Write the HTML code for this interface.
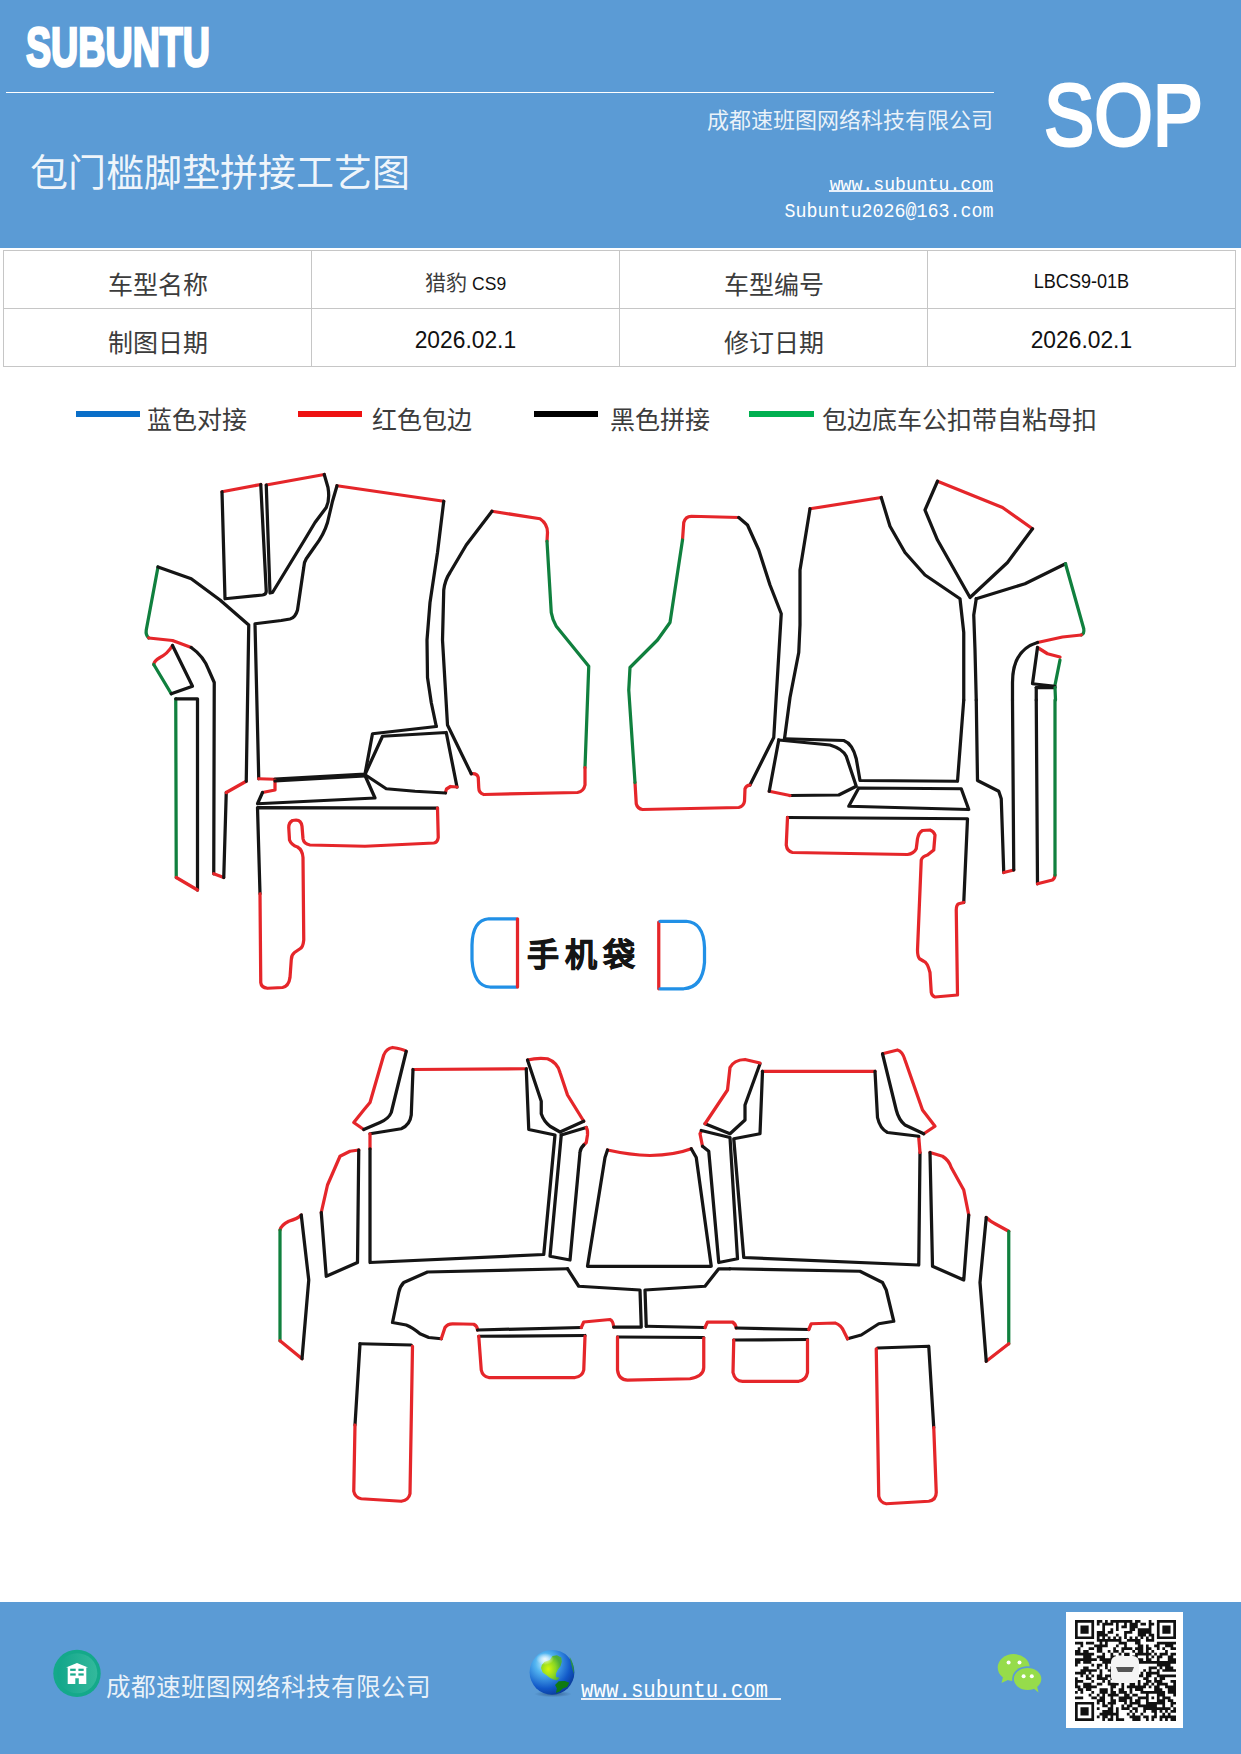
<!DOCTYPE html>
<html lang="zh-CN">
<head>
<meta charset="utf-8">
<style>
html,body{margin:0;padding:0;}
body{width:1241px;height:1754px;position:relative;overflow:hidden;background:#fff;font-family:"Liberation Serif",serif;}
.abs{position:absolute;white-space:nowrap;}
#hdr{position:absolute;left:0;top:0;width:1241px;height:247.6px;background:#5b9bd5;}
#ftr{position:absolute;left:0;top:1602px;width:1241px;height:152px;background:#5b9bd5;}
.w{color:#fff;}
.logo{font-family:"Liberation Sans",sans-serif;font-weight:bold;font-size:56px;line-height:56px;transform-origin:0 0;transform:scaleX(0.672);-webkit-text-stroke:2.6px #fff;}
.sop{font-family:"Liberation Sans",sans-serif;font-weight:normal;font-size:88px;line-height:88px;transform-origin:0 0;transform:scaleX(0.855);-webkit-text-stroke:3px #fff;}
.mono{font-family:"Liberation Mono",monospace;}
.cell{position:absolute;width:307px;text-align:center;white-space:nowrap;color:#3c3c3c;line-height:1.2;}
.sans{font-family:"Liberation Sans",sans-serif;color:#111;}
.lg{position:absolute;height:6px;}
.lt{font-size:25px;color:#3c3c3c;}
</style>
</head>
<body>
<div id="hdr">
  <div class="abs w logo" id="logo" style="left:26px;top:19px;">SUBUNTU</div>
  <div class="abs" style="left:6px;top:91.6px;width:988px;height:1.8px;background:#fff;"></div>
  <div class="abs w" id="comp" style="color:rgba(255,255,255,0.88);right:248px;top:102px;font-size:22px;">成都速班图网络科技有限公司</div>
  <div class="abs w" id="title" style="color:rgba(255,255,255,0.92);left:30px;top:142px;font-size:38px;">包门槛脚垫拼接工艺图</div>
  <div class="abs w sop" id="sop" style="left:1044px;top:71px;">SOP</div>
  <div class="abs w mono" id="url1" style="right:248px;top:176px;font-size:19px;line-height:19px;transform-origin:100% 0;transform:scaleX(0.955);">www.subuntu.com</div>
  <div class="abs" style="left:829px;top:190.4px;width:164px;height:1.4px;background:#e8f0fa;"></div>
  <div class="abs w mono" id="mail" style="right:248px;top:201px;font-size:21px;line-height:21px;transform-origin:100% 0;transform:scaleX(0.873);">Subuntu2026@163.com</div>
</div>

<div class="abs" style="left:3.2px;top:250.2px;width:1232.4px;height:116.8px;border:1.3px solid #c6c6c6;box-sizing:border-box;"></div>
<div class="abs" style="left:4px;top:308px;width:1231px;height:1.3px;background:#c6c6c6;"></div>
<div class="abs" style="left:311px;top:251px;width:1.3px;height:115px;background:#c6c6c6;"></div>
<div class="abs" style="left:619px;top:251px;width:1.3px;height:115px;background:#c6c6c6;"></div>
<div class="abs" style="left:927px;top:251px;width:1.3px;height:115px;background:#c6c6c6;"></div>
<div class="cell" style="left:4px;top:271px;font-size:25px;">车型名称</div>
<div class="cell" style="left:312px;top:271px;font-size:21px;">猎豹 <span class="sans" style="font-size:17.5px;">CS9</span></div>
<div class="cell" style="left:620px;top:271px;font-size:25px;">车型编号</div>
<div class="cell sans" style="left:928px;top:268px;font-size:21px;"><span style="display:inline-block;transform:scaleX(0.86);">LBCS9-01B</span></div>
<div class="cell" style="left:4px;top:329px;font-size:25px;">制图日期</div>
<div class="cell sans" style="left:312px;top:326px;font-size:24px;"><span style="display:inline-block;transform:scaleX(0.95);">2026.02.1</span></div>
<div class="cell" style="left:620px;top:329px;font-size:25px;">修订日期</div>
<div class="cell sans" style="left:928px;top:326px;font-size:24px;"><span style="display:inline-block;transform:scaleX(0.95);">2026.02.1</span></div>

<div class="lg" style="left:76px;top:411px;width:64px;background:#0a6ec8;"></div>
<div class="abs lt" style="left:147px;top:400px;">蓝色对接</div>
<div class="lg" style="left:298px;top:411px;width:64px;background:#ee1111;"></div>
<div class="abs lt" style="left:372px;top:400px;">红色包边</div>
<div class="lg" style="left:534px;top:411px;width:64px;background:#000;"></div>
<div class="abs lt" style="left:610px;top:400px;">黑色拼接</div>
<div class="lg" style="left:749px;top:411px;width:65px;background:#00b050;"></div>
<div class="abs lt" style="left:822px;top:400px;">包边底车公扣带自粘母扣</div>

<svg id="draw" class="abs" style="left:0;top:0;" width="1241" height="1600" viewBox="0 0 1241 1600" fill="none" stroke-linecap="round" stroke-linejoin="round" stroke-width="13">
<style>.k{stroke:#151515}.r{stroke:#e5262a}.g{stroke:#10803e}.b{stroke:#2190e6}</style>
<g transform="translate(140,460) scale(0.25)">
<path class="r" d="M328,127 L483,98"/>
<path class="k" d="M483,98 L505,525 Q505,538 490,540 L340,555 L328,127"/>
<path class="r" d="M505,100 L737,58"/>
<path class="k" d="M737,58 L752,110 Q760,160 745,190 L700,250 L655,325 L530,530 L520,532 L505,100"/>
<path class="r" d="M788,103 L1215,165"/>
<path class="k" d="M788,103 L770,165 L750,250 Q735,300 700,345 L665,395 Q655,410 655,430 L630,600 Q622,630 600,636 L565,642 L460,655 L475,1275"/>
<path class="r" d="M475,1275 L540,1277"/>
<path class="k" d="M540,1276 L900,1256 L930,1095 L1185,1066"/>
<path class="g" d="M72,428 L25,680 Q22,700 35,712"/>
<path class="r" d="M35,712 L130,722 L205,750"/>
<path class="k" d="M205,750 Q255,785 275,840 L297,890 L295,1655"/>
<path class="r" d="M295,1655 L335,1670"/>
<path class="k" d="M335,1670 L345,1330"/>
<path class="r" d="M345,1330 L425,1285"/>
<path class="k" d="M425,1285 L435,660 L320,560 L205,475 L72,428"/>
<path class="r" d="M130,742 Q110,775 80,790 Q55,805 55,818"/>
<path class="g" d="M55,818 L125,935"/>
<path class="k" d="M125,935 L210,905 L130,742"/>
<path class="g" d="M145,1670 L143,955"/>
<path class="k" d="M143,955 L230,955 L230,1720"/>
<path class="r" d="M230,1720 L145,1670"/>
<path class="r" d="M540,1280 L540,1320 L490,1330"/>
<path class="k" d="M490,1330 L470,1375 L940,1352 L900,1262"/>
<path class="k" d="M540,1284 L900,1264"/>
<path class="k" d="M900,1258 L970,1105 L1225,1090 L1268,1308"/>
<path class="r" d="M1268,1308 L1242,1306 L1226,1316 L1222,1330"/>
<path class="k" d="M1222,1332 L1100,1325 L985,1315 L905,1262"/>
<path class="k" d="M480,1735 L470,1390 L1190,1392"/>
<path class="r" d="M1190,1392 L1193,1510 Q1190,1530 1175,1532 L900,1545 L680,1540 Q655,1535 652,1515 L648,1465 Q645,1440 625,1440 L610,1442 Q595,1450 595,1470 L598,1520 Q605,1540 630,1548 Q650,1560 652,1590 L655,1920 Q652,1950 640,1955 L618,1970 Q605,1980 605,2000 L600,2070 Q595,2105 570,2110 L510,2113 Q485,2110 483,2090 L480,1735"/>
</g>
<g transform="translate(420,490) scale(0.25)">
<path class="k" d="M95,45 L70,250 L40,450 L28,600 L30,750 L45,850 L65,945"/>
<path class="r" d="M288,85 L480,115 Q510,135 510,170 L508,205"/>
<path class="g" d="M508,205 L525,490 Q530,520 545,545 L675,705 L660,1110"/>
<path class="r" d="M660,1110 L660,1180 Q655,1205 630,1210 L255,1218 Q235,1212 235,1190 L233,1150 Q228,1132 205,1135"/>
<path class="k" d="M205,1135 L110,940 L90,600 L95,400 Q100,360 120,330 L185,220 L288,85"/>
</g>
<g transform="translate(620,490) scale(0.25)">
<path class="r" d="M250,200 L255,130 Q262,105 285,105 L475,110"/>
<path class="k" d="M475,110 L510,140 L555,240 L600,380 L645,495 L615,990 L520,1180"/>
<path class="r" d="M60,1170 L65,1255 Q70,1275 90,1278 L475,1270 Q495,1265 498,1245 L500,1195 Q505,1180 520,1180"/>
<path class="g" d="M250,200 L200,530 L150,600 L40,710 L35,800 L60,1170"/>
<path class="r" d="M760,75 L1045,30"/>
<path class="k" d="M760,75 L720,320 L720,540 L715,650 L680,830 L658,995"/>
</g>
<g transform="translate(800,470) scale(0.25)">
<path class="k" d="M325,110 L360,225 L420,330 L500,420 L640,515 L655,650 L655,920"/>
<path class="r" d="M550,45 L810,150 L930,235"/>
<path class="k" d="M930,235 L830,370 L680,510 L550,280 L500,160 L550,45"/>
<path class="k" d="M705,515 L900,455 L1062,375"/>
<path class="g" d="M1062,375 L1135,635 Q1138,655 1125,660"/>
<path class="r" d="M1125,660 L1050,668 L950,690"/>
<path class="k" d="M950,690 Q850,720 850,850 L850,920"/>
<path class="k" d="M705,515 L695,580 L700,720 L705,920"/>
<path class="r" d="M950,710 L990,735 L1040,748"/>
<path class="g" d="M1040,760 L1020,860"/>
<path class="k" d="M1020,865 L930,855 L950,710"/>
<path class="k" d="M945,870 L1020,870"/>
<path class="g" d="M1020,870 L1022,920"/>
<path class="k" d="M945,870 L945,920"/>
</g>
<g transform="translate(770,700) scale(0.25)">
<path class="k" d="M775,0 L750,325 L360,322 L345,235 Q330,175 295,162 L58,155"/>
<path class="k" d="M35,160 L240,180 Q290,195 305,225 L345,345 L275,380 L80,382"/>
<path class="r" d="M80,382 L-3,365"/>
<path class="k" d="M35,160 L-3,365"/>
<path class="k" d="M355,352 L765,355 L795,438 L315,425 Z"/>
<path class="k" d="M70,470 L790,475 L775,810"/>
<path class="r" d="M775,810 L755,815 Q745,820 745,840 L750,1180 L660,1188 Q648,1185 645,1170 L640,1090 Q630,1050 615,1045 L598,1035 Q590,1025 590,1000 L605,640 Q610,625 630,620 L655,600 L660,540 Q655,525 640,520 L610,522 Q595,530 590,555 L585,595 Q575,615 550,618 L90,610 Q68,605 65,580 L70,470"/>
<path class="k" d="M825,0 L830,322 L915,365 L925,395 L935,690"/>
<path class="r" d="M935,690 L975,680"/>
<path class="k" d="M975,680 L970,0"/>
<path class="k" d="M1065,0 L1070,735"/>
<path class="r" d="M1070,735 L1130,720 Q1140,712 1140,700"/>
<path class="g" d="M1140,700 L1140,0"/>
</g>
<g transform="translate(440,740) scale(0.25)">
<path class="b" d="M305,715 L195,715 Q130,720 128,820 L128,880 Q135,985 200,988 L305,988"/>
<path class="r" d="M310,715 L310,988"/>
<path class="r" d="M875,728 L875,995"/>
<path class="b" d="M880,725 L985,725 Q1055,730 1058,830 L1058,890 Q1050,990 975,995 L880,995"/>
</g>
<g transform="translate(270,1040) scale(0.25)">
<path class="r" d="M545,45 Q530,35 490,30 Q465,35 455,60 L400,250 L375,280 L335,330 L375,358"/>
<path class="k" d="M375,358 L440,330 Q475,315 485,290 L545,45"/>
<path class="r" d="M572,118 L1025,115"/>
<path class="k" d="M572,118 L565,300 Q560,340 525,355 L400,375"/>
<path class="r" d="M400,375 L400,435"/>
<path class="k" d="M400,435 L400,890 L1095,858 L1140,380 L1035,358 L1025,115"/>
<path class="r" d="M1030,80 Q1070,70 1110,75 Q1150,90 1160,130 L1190,220 L1255,325"/>
<path class="k" d="M1030,80 L1085,245 L1085,295 Q1095,325 1120,345 L1160,368 L1255,325"/>
<path class="r" d="M355,440 L320,445 L280,465 L230,580 L205,690"/>
<path class="k" d="M205,690 L225,945 L350,890 L355,440"/>
<path class="r" d="M125,700 Q110,715 75,725 Q45,740 40,760"/>
<path class="g" d="M40,760 L40,1203"/>
<path class="r" d="M40,1203 L128,1275"/>
<path class="k" d="M128,1275 L155,960 L125,700"/>
<path class="k" d="M1190,915 L630,928 L535,970 Q520,985 515,1010 L490,1130 L545,1140 Q570,1150 600,1175 L635,1190 L685,1195"/>
<path class="r" d="M685,1195 L700,1150 Q710,1135 730,1135 L815,1137 Q830,1145 830,1160"/>
<path class="k" d="M830,1160 L1245,1150"/>
<path class="k" d="M835,1185 L1260,1182"/>
<path class="r" d="M835,1185 L845,1320 Q850,1345 875,1350 L1220,1350 Q1250,1345 1255,1320 L1260,1185"/>
<path class="k" d="M360,1215 L565,1220"/>
<path class="k" d="M360,1215 L340,1540"/>
<path class="r" d="M340,1540 L335,1805 Q340,1830 365,1835 L525,1845 Q555,1840 560,1815 L570,1225"/>
</g>
<g transform="translate(530,1040) scale(0.25)">
<path class="k" d="M125,380 L225,350"/>
<path class="r" d="M225,350 Q232,360 230,380 L225,410 L215,420"/>
<path class="k" d="M215,420 Q200,435 200,450 L160,880 L80,865 L125,380"/>
<path class="r" d="M310,440 Q400,460 480,462 Q580,460 645,435"/>
<path class="k" d="M645,435 L665,470 L725,905 L230,905 L300,470 L310,440"/>
<path class="r" d="M685,365 L680,375 L690,425"/>
<path class="k" d="M690,425 L715,445 L755,890 L830,875 L800,390 L685,362"/>
<path class="k" d="M920,95 L860,260 L860,320 L800,375 L700,335"/>
<path class="r" d="M700,335 L790,200 L800,110 Q815,80 860,78 L920,92"/>
<path class="r" d="M205,1150 L215,1128 L320,1118 Q332,1122 335,1148"/>
<path class="k" d="M335,1148 L445,1148 L440,1000 L195,985 L150,915"/>
<path class="k" d="M465,1145 L460,1000 L700,985 L755,915 L800,915"/>
<path class="k" d="M465,1145 L700,1150"/>
<path class="r" d="M700,1150 L710,1128 L810,1128 Q822,1135 825,1152"/>
<path class="k" d="M825,1152 L1115,1158"/>
<path class="k" d="M350,1188 L695,1190"/>
<path class="r" d="M350,1188 L350,1320 Q355,1360 390,1360 L640,1355 Q695,1345 695,1310 L695,1192"/>
</g>
<g transform="translate(730,1040) scale(0.25)">
<path class="r" d="M130,125 L580,125"/>
<path class="k" d="M130,125 L120,375 L15,395 L55,870 L755,900 L760,450"/>
<path class="r" d="M760,450 L755,390"/>
<path class="k" d="M755,385 L630,370 Q600,355 590,310 L580,125"/>
<path class="r" d="M610,55 L670,40 Q690,45 700,80 L770,280 L820,345 L775,375"/>
<path class="k" d="M775,375 L700,340 Q675,320 665,280 L610,55"/>
<path class="r" d="M800,450 L850,465 Q875,480 885,510 L935,600 L955,700"/>
<path class="k" d="M955,700 L935,960 L810,905 L800,450"/>
<path class="r" d="M1025,710 Q1040,725 1060,735 L1115,765"/>
<path class="g" d="M1115,765 L1115,1215"/>
<path class="r" d="M1115,1215 L1025,1285"/>
<path class="k" d="M1025,1285 L1000,970 L1025,710"/>
<path class="k" d="M0,915 L520,925 L610,970 L625,1000 L655,1125 L595,1135 L525,1180 L470,1195"/>
<path class="r" d="M470,1195 L455,1165 Q445,1140 420,1132 L325,1135 L315,1158"/>
<path class="k" d="M15,1200 L310,1198"/>
<path class="r" d="M15,1200 L12,1330 Q20,1365 50,1365 L275,1365 Q305,1360 310,1330 L310,1200"/>
<path class="k" d="M590,1232 L795,1225 L815,1550"/>
<path class="r" d="M815,1550 L825,1810 Q825,1840 795,1845 L625,1855 Q600,1850 595,1825 L585,1235"/>
</g>
</svg>

<div class="abs" id="bag" style="left:527px;top:929px;font-size:32px;font-weight:bold;color:#151515;letter-spacing:6px;-webkit-text-stroke:0.7px #151515;">手机袋</div>
<div id="ftr">
<svg class="abs" style="left:0;top:0;" width="1241" height="152" viewBox="0 1602 1241 152">
<defs>
<radialGradient id="gl" cx="0.35" cy="0.3" r="0.75">
<stop offset="0" stop-color="#c9f4ff"/><stop offset="0.3" stop-color="#52b4f0"/><stop offset="0.75" stop-color="#1158c8"/><stop offset="1" stop-color="#0a3a98"/>
</radialGradient>
<radialGradient id="sh" cx="0.5" cy="0.5" r="0.5"><stop offset="0" stop-color="#1e3f66" stop-opacity="0.6"/><stop offset="1" stop-color="#1e3f66" stop-opacity="0"/></radialGradient>
</defs>
<linearGradient id="tg" x1="0" y1="0" x2="1" y2="0"><stop offset="0" stop-color="#12a68a"/><stop offset="1" stop-color="#33b99c"/></linearGradient>
<circle cx="77" cy="1673.4" r="23.7" fill="#14a98a"/>
<circle cx="77.3" cy="1673.2" r="20" fill="url(#tg)"/>
<path d="M66,1667.6 L77,1663 L88.1,1667.6 L86.3,1667.6 L86.3,1684 L78.8,1684 L78.8,1678.2 L75.3,1678.2 L75.3,1684 L67.7,1684 L67.7,1667.6 Z" fill="#fff"/>
<g fill="#16a98b"><rect x="70.2" y="1668.7" width="5.5" height="2.2"/><rect x="78.4" y="1668.7" width="5.3" height="2.2"/><rect x="70.2" y="1673.4" width="5.5" height="2.2"/><rect x="78.4" y="1673.4" width="5.3" height="2.2"/></g>
<ellipse cx="553" cy="1694" rx="19" ry="3.2" fill="url(#sh)"/>
<radialGradient id="na" cx="0.35" cy="0.55" r="0.6"><stop offset="0" stop-color="#d4f80a"/><stop offset="0.6" stop-color="#8ad624"/><stop offset="1" stop-color="#4cae3a"/></radialGradient>
<radialGradient id="hl" cx="0.5" cy="0.5" r="0.5"><stop offset="0" stop-color="#ffffff" stop-opacity="0.85"/><stop offset="1" stop-color="#ffffff" stop-opacity="0"/></radialGradient>
<circle cx="552" cy="1672.3" r="22.4" fill="url(#gl)"/>
<path d="M569.5,1656.5 Q574.5,1664 573.8,1674 Q572,1668 569.5,1656.5 Z" fill="#2e9a3a" opacity="0.9"/>
<path d="M541,1668 L541.8,1665 L544.5,1661.8 L549.8,1660.1 L552.5,1656.1 L556.9,1655.2 L561.3,1657.4 L561.8,1661.8 L560.5,1666.3 L557.8,1669.8 L556,1673.4 L556,1676.9 L559.6,1677.8 L556.9,1680.5 L553.4,1679.6 L549.8,1677.8 L546.3,1675.1 L542.7,1672.5 Z" fill="url(#na)"/>
<path d="M555.1,1684.9 L558.7,1681.3 L564.9,1680.9 L569.3,1682.7 L567.1,1687.1 L562.7,1688.4 L559.6,1691.5 L556,1692.9 L556.9,1688.4 Z" fill="#0f7a12"/>
<ellipse cx="545" cy="1659" rx="9" ry="6" fill="url(#hl)"/>
<g fill="#96dc4b">
<ellipse cx="1013.7" cy="1667.5" rx="16" ry="13.5"/>
<path d="M1003,1677 L1001.5,1683 L1010,1679 Z"/>
</g>
<ellipse cx="1027.6" cy="1679" rx="15.5" ry="12.8" fill="#5b9bd5"/>
<g fill="#96dc4b">
<ellipse cx="1027.6" cy="1679" rx="13.7" ry="11"/>
<path d="M1033,1688 L1038.5,1692.5 L1037,1686 Z"/>
</g>
<g fill="#fff">
<circle cx="1008.6" cy="1662.4" r="2"/><circle cx="1019.5" cy="1662.4" r="2"/>
<circle cx="1023.6" cy="1676.2" r="2"/><circle cx="1031.8" cy="1676.2" r="2"/>
</g>
</svg>
<svg class="abs" style="left:1066px;top:10px;" width="117" height="116" viewBox="0 0 117 116">
<rect x="0" y="0" width="117" height="116" fill="#fff"/>
<g transform="translate(9,8) scale(2.7297)"><path d="M0,0h7v1h-7zM8,0h2v1h-2zM11,0h1v1h-1zM13,0h8v1h-8zM22,0h2v1h-2zM27,0h1v1h-1zM30,0h7v1h-7zM0,1h1v1h-1zM6,1h1v1h-1zM8,1h1v1h-1zM10,1h4v1h-4zM15,1h1v1h-1zM18,1h1v1h-1zM20,1h3v1h-3zM24,1h2v1h-2zM27,1h2v1h-2zM30,1h1v1h-1zM36,1h1v1h-1zM0,2h1v1h-1zM2,2h3v1h-3zM6,2h1v1h-1zM10,2h1v1h-1zM15,2h1v1h-1zM17,2h2v1h-2zM20,2h3v1h-3zM27,2h1v1h-1zM30,2h1v1h-1zM32,2h3v1h-3zM36,2h1v1h-1zM0,3h1v1h-1zM2,3h3v1h-3zM6,3h1v1h-1zM10,3h1v1h-1zM13,3h1v1h-1zM15,3h1v1h-1zM20,3h2v1h-2zM23,3h5v1h-5zM30,3h1v1h-1zM32,3h3v1h-3zM36,3h1v1h-1zM0,4h1v1h-1zM2,4h3v1h-3zM6,4h1v1h-1zM8,4h3v1h-3zM12,4h2v1h-2zM18,4h3v1h-3zM23,4h5v1h-5zM30,4h1v1h-1zM32,4h3v1h-3zM36,4h1v1h-1zM0,5h1v1h-1zM6,5h1v1h-1zM8,5h4v1h-4zM15,5h1v1h-1zM18,5h1v1h-1zM23,5h3v1h-3zM27,5h2v1h-2zM30,5h1v1h-1zM36,5h1v1h-1zM0,6h7v1h-7zM8,6h1v1h-1zM10,6h1v1h-1zM12,6h1v1h-1zM14,6h1v1h-1zM16,6h1v1h-1zM18,6h1v1h-1zM20,6h1v1h-1zM22,6h1v1h-1zM24,6h1v1h-1zM26,6h1v1h-1zM28,6h1v1h-1zM30,6h7v1h-7zM8,7h9v1h-9zM19,7h5v1h-5zM26,7h3v1h-3zM0,8h3v1h-3zM4,8h3v1h-3zM9,8h1v1h-1zM11,8h1v1h-1zM16,8h3v1h-3zM22,8h2v1h-2zM30,8h7v1h-7zM2,9h1v1h-1zM7,9h5v1h-5zM15,9h1v1h-1zM18,9h1v1h-1zM23,9h2v1h-2zM26,9h1v1h-1zM29,9h2v1h-2zM33,9h3v1h-3zM1,10h1v1h-1zM5,10h2v1h-2zM8,10h2v1h-2zM14,10h1v1h-1zM17,10h4v1h-4zM22,10h3v1h-3zM26,10h2v1h-2zM30,10h1v1h-1zM32,10h1v1h-1zM35,10h2v1h-2zM0,11h2v1h-2zM3,11h2v1h-2zM8,11h2v1h-2zM12,11h1v1h-1zM14,11h2v1h-2zM17,11h1v1h-1zM21,11h1v1h-1zM23,11h2v1h-2zM26,11h1v1h-1zM28,11h1v1h-1zM33,11h1v1h-1zM0,12h7v1h-7zM10,12h1v1h-1zM13,12h1v1h-1zM16,12h1v1h-1zM18,12h2v1h-2zM22,12h6v1h-6zM29,12h1v1h-1zM31,12h3v1h-3zM35,12h2v1h-2zM3,13h3v1h-3zM8,13h3v1h-3zM13,13h2v1h-2zM18,13h2v1h-2zM21,13h2v1h-2zM26,13h1v1h-1zM28,13h1v1h-1zM30,13h2v1h-2zM34,13h2v1h-2zM0,14h8v1h-8zM9,14h5v1h-5zM23,14h2v1h-2zM26,14h2v1h-2zM30,14h1v1h-1zM34,14h3v1h-3zM0,15h2v1h-2zM3,15h3v1h-3zM10,15h4v1h-4zM23,15h14v1h-14zM0,16h1v1h-1zM6,16h1v1h-1zM8,16h2v1h-2zM11,16h1v1h-1zM30,16h5v1h-5zM3,17h2v1h-2zM8,17h1v1h-1zM11,17h1v1h-1zM13,17h1v1h-1zM27,17h3v1h-3zM31,17h1v1h-1zM33,17h3v1h-3zM2,18h6v1h-6zM9,18h1v1h-1zM12,18h2v1h-2zM25,18h1v1h-1zM27,18h1v1h-1zM30,18h1v1h-1zM32,18h5v1h-5zM0,19h4v1h-4zM5,19h1v1h-1zM9,19h1v1h-1zM13,19h1v1h-1zM24,19h1v1h-1zM26,19h5v1h-5zM2,20h1v1h-1zM4,20h1v1h-1zM6,20h1v1h-1zM8,20h2v1h-2zM11,20h3v1h-3zM23,20h2v1h-2zM26,20h2v1h-2zM30,20h7v1h-7zM0,21h1v1h-1zM4,21h2v1h-2zM8,21h4v1h-4zM13,21h1v1h-1zM25,21h2v1h-2zM29,21h1v1h-1zM31,21h2v1h-2zM0,22h3v1h-3zM6,22h1v1h-1zM10,22h1v1h-1zM12,22h1v1h-1zM23,22h1v1h-1zM26,22h2v1h-2zM29,22h3v1h-3zM35,22h2v1h-2zM0,23h1v1h-1zM3,23h3v1h-3zM8,23h2v1h-2zM12,23h4v1h-4zM17,23h1v1h-1zM20,23h2v1h-2zM23,23h1v1h-1zM25,23h2v1h-2zM28,23h1v1h-1zM30,23h4v1h-4zM36,23h1v1h-1zM0,24h2v1h-2zM3,24h5v1h-5zM13,24h2v1h-2zM17,24h1v1h-1zM19,24h7v1h-7zM27,24h1v1h-1zM29,24h2v1h-2zM33,24h4v1h-4zM1,25h2v1h-2zM4,25h2v1h-2zM9,25h3v1h-3zM13,25h1v1h-1zM16,25h2v1h-2zM20,25h1v1h-1zM22,25h3v1h-3zM29,25h3v1h-3zM34,25h3v1h-3zM0,26h1v1h-1zM2,26h1v1h-1zM6,26h1v1h-1zM9,26h3v1h-3zM13,26h2v1h-2zM16,26h3v1h-3zM20,26h1v1h-1zM24,26h9v1h-9zM34,26h3v1h-3zM5,27h1v1h-1zM8,27h1v1h-1zM10,27h1v1h-1zM12,27h4v1h-4zM18,27h2v1h-2zM21,27h2v1h-2zM26,27h1v1h-1zM30,27h3v1h-3zM36,27h1v1h-1zM0,28h3v1h-3zM6,28h2v1h-2zM9,28h2v1h-2zM13,28h1v1h-1zM16,28h5v1h-5zM23,28h4v1h-4zM28,28h1v1h-1zM30,28h1v1h-1zM32,28h3v1h-3zM8,29h3v1h-3zM13,29h2v1h-2zM16,29h3v1h-3zM20,29h1v1h-1zM22,29h2v1h-2zM26,29h1v1h-1zM30,29h3v1h-3zM34,29h2v1h-2zM0,30h7v1h-7zM8,30h1v1h-1zM10,30h1v1h-1zM12,30h3v1h-3zM18,30h1v1h-1zM20,30h4v1h-4zM26,30h7v1h-7zM35,30h2v1h-2zM0,31h1v1h-1zM6,31h1v1h-1zM10,31h2v1h-2zM13,31h1v1h-1zM17,31h1v1h-1zM19,31h2v1h-2zM23,31h7v1h-7zM32,31h1v1h-1zM35,31h1v1h-1zM0,32h1v1h-1zM2,32h3v1h-3zM6,32h1v1h-1zM8,32h1v1h-1zM12,32h2v1h-2zM15,32h1v1h-1zM17,32h3v1h-3zM21,32h2v1h-2zM25,32h10v1h-10zM36,32h1v1h-1zM0,33h1v1h-1zM2,33h3v1h-3zM6,33h1v1h-1zM10,33h4v1h-4zM15,33h1v1h-1zM20,33h1v1h-1zM22,33h1v1h-1zM25,33h1v1h-1zM28,33h2v1h-2zM31,33h1v1h-1zM33,33h1v1h-1zM35,33h2v1h-2zM0,34h1v1h-1zM2,34h3v1h-3zM6,34h1v1h-1zM9,34h7v1h-7zM19,34h1v1h-1zM21,34h1v1h-1zM24,34h1v1h-1zM29,34h1v1h-1zM32,34h1v1h-1zM34,34h1v1h-1zM0,35h1v1h-1zM6,35h1v1h-1zM8,35h1v1h-1zM10,35h2v1h-2zM13,35h1v1h-1zM15,35h1v1h-1zM20,35h4v1h-4zM25,35h2v1h-2zM28,35h2v1h-2zM31,35h6v1h-6zM0,36h7v1h-7zM10,36h1v1h-1zM12,36h2v1h-2zM15,36h3v1h-3zM21,36h3v1h-3zM26,36h1v1h-1zM28,36h1v1h-1zM31,36h1v1h-1zM33,36h1v1h-1zM35,36h2v1h-2z" fill="#111"/></g>
<rect x="45" y="44" width="28" height="27" rx="6" fill="#f4f4f4"/>
<path d="M50,55 h18 l-2,5 h-14z" fill="#555"/>
</svg>
  <div class="abs w" style="color:rgba(255,255,255,0.88);left:106px;top:65px;font-size:24.6px;">成都速班图网络科技有限公司</div>
  <div class="abs w mono" id="url2" style="left:581px;top:77px;font-size:24px;line-height:24px;transform-origin:0 0;transform:scaleX(0.866);">www.subuntu.com</div>
  <div class="abs" style="left:581px;top:96.3px;width:200px;height:1.5px;background:#e8f0fa;"></div>
</div>
</body>
</html>
